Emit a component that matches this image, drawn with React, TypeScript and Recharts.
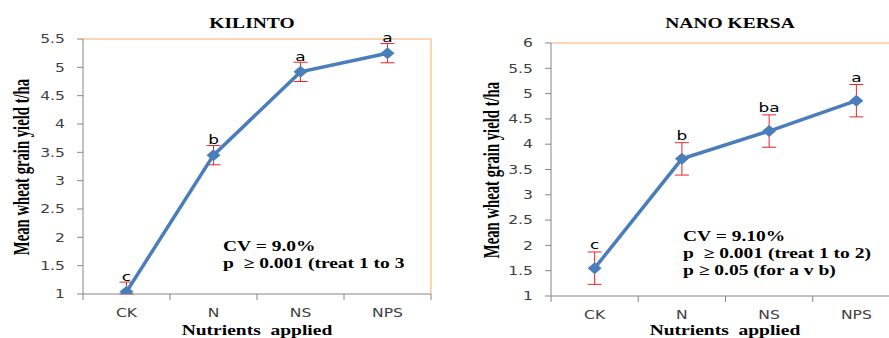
import { LineChart, Line, XAxis, YAxis, ErrorBar, LabelList, ReferenceLine } from 'recharts';

const categories = ['CK', 'N', 'NS', 'NPS'];

// KILINTO
const kilintoYield = [1.04, 3.45, 4.92, 5.25];
const kilintoErrLow = [0.04, 0.17, 0.17, 0.17];
const kilintoErrHigh = [0.17, 0.17, 0.17, 0.17];
const kilintoLetters = ['c', 'b', 'a', 'a'];
const kilintoTicks = [1, 1.5, 2, 2.5, 3, 3.5, 4, 4.5, 5, 5.5];

// NANO KERSA
const kersaYield = [1.55, 3.71, 4.26, 4.86];
const kersaErr = [0.32, 0.32, 0.32, 0.32];
const kersaLetters = ['c', 'b', 'ba', 'a'];
const kersaTicks = [1, 1.5, 2, 2.5, 3, 3.5, 4, 4.5, 5, 5.5, 6];

const xTicks = [0, 0.5, 1, 1.5, 2, 2.5, 3, 3.5, 4];

const kilintoData = categories.map((c, i) => ({
  x: i + 0.5,
  cat: c,
  y: kilintoYield[i],
  err: [kilintoErrLow[i], kilintoErrHigh[i]],
  sig: kilintoLetters[i],
}));

const kersaData = categories.map((c, i) => ({
  x: i + 0.5,
  cat: c,
  y: kersaYield[i],
  err: [kersaErr[i], kersaErr[i]],
  sig: kersaLetters[i],
}));

const BLUE = '#4a7ebb';
const AXIS = '#868686';
const ORANGE = '#fac99c';
const TICK_TXT = '#404040';
const SX = 1.3;

const YTick = (props: any) => {
  const { x, y, payload } = props;
  return (
    <g transform={`translate(${x},${y})`}>
      <text transform={`scale(${SX},1)`} textAnchor="end" dy="0.355em" fontSize={12}
        fontFamily="DejaVu Sans" fill={TICK_TXT}>
        {payload.value}
      </text>
    </g>
  );
};

const XTick = (props: any) => {
  const { x, y, payload } = props;
  const v = payload.value;
  if (v % 1 === 0) {
    return <line x1={x} x2={x} y1={y - 14} y2={y - 8} stroke={AXIS} />;
  }
  return (
    <g transform={`translate(${x},${y})`}>
      <text transform={`scale(${SX},1)`} textAnchor="middle" dy="0.71em" fontSize={12}
        fontFamily="DejaVu Sans" fill={TICK_TXT}>
        {categories[Math.floor(v)]}
      </text>
    </g>
  );
};

const Diamond = (props: any) => {
  const { cx, cy } = props;
  if (cx == null || cy == null) return null;
  return <path d={`M${cx - 7},${cy} L${cx},${cy - 6} L${cx + 7},${cy} L${cx},${cy + 6} Z`} fill={BLUE} />;
};

const sigLabel = (offset: number) => (props: any) => {
  const { x, y, value } = props;
  return (
    <g transform={`translate(${x},${y - offset})`}>
      <text transform={`scale(${SX},1)`} textAnchor="middle" fontSize={13}
        fontFamily="DejaVu Sans" fill="#000">
        {value}
      </text>
    </g>
  );
};

const serif: React.CSSProperties = {
  position: 'absolute',
  fontFamily: '"Liberation Serif", serif',
  fontWeight: 'bold',
  fontSize: 15,
  color: '#000',
  whiteSpace: 'pre',
  lineHeight: '17px',
};

function Txt({ x, y, children, center = true }: any) {
  return (
    <div style={{ ...serif, left: x, top: y, transform: `translate(${center ? '-50%' : '0'},-50%) scaleX(${SX})`, transformOrigin: center ? 'center' : 'left center' }}>
      {children}
    </div>
  );
}

function YLabel({ x, y }: any) {
  return (
    <div style={{ ...serif, left: x, top: y, fontSize: 14.7, transform: 'translate(-50%,-50%) rotate(-90deg) scaleY(1.5)' }}>
      Mean wheat grain yield t/ha
    </div>
  );
}

function Panel({ data, ticks, domain, width, yAxisWidth, margin, errKey, offset }: any) {
  return (
    <LineChart width={width} height={338} data={data} margin={margin}>
      <XAxis dataKey="x" type="number" domain={[0, 4]} ticks={xTicks} interval={0}
        height={30} tickSize={6} tickMargin={8} tickLine={false}
        axisLine={{ stroke: AXIS }} tick={<XTick />} allowDataOverflow />
      <YAxis type="number" domain={domain} ticks={ticks} interval={0} width={yAxisWidth}
        tickSize={6} tickMargin={12} tickLine={{ stroke: AXIS }} axisLine={{ stroke: AXIS }}
        tick={<YTick />} allowDataOverflow />
      <ReferenceLine y={domain[1]} stroke={ORANGE} strokeWidth={1.5} />
      <ReferenceLine x={4} stroke={ORANGE} strokeWidth={1.5} />
      <Line type="linear" dataKey="y" stroke={BLUE} strokeWidth={3.5} dot={<Diamond />}
        activeDot={false} isAnimationActive={false}>
        <ErrorBar dataKey={errKey} width={7} stroke="#e8262a" strokeWidth={1} direction="y" />
        <LabelList dataKey="sig" content={sigLabel(offset)} />
      </Line>
    </LineChart>
  );
}

export default function App() {
  return (
    <div style={{ position: 'absolute', left: 0, top: 0, width: 889, height: 338, overflow: 'hidden', background: '#fff' }}>
      <div style={{ position: 'absolute', left: 0, top: 0 }}>
        <Panel data={kilintoData} ticks={kilintoTicks} domain={[1, 5.5]} width={445}
          yAxisWidth={83} margin={{ top: 39, right: 14, bottom: 14, left: 0 }} errKey="err" offset={11} />
      </div>
      <div style={{ position: 'absolute', left: 445, top: 0 }}>
        <Panel data={kersaData} ticks={kersaTicks} domain={[1, 6]} width={460}
          yAxisWidth={106} margin={{ top: 43, right: 5, bottom: 12, left: 0 }} errKey="err" offset={19} />
      </div>

      <Txt x={252} y={23}>KILINTO</Txt>
      <YLabel x={22} y={167} />
      <Txt x={257} y={330}>{'Nutrients  applied'}</Txt>
      <Txt x={223} y={246} center={false}>CV = 9.0%</Txt>
      <Txt x={223} y={263} center={false}>{'p  \u2265 0.001 (treat 1 to 3'}</Txt>

      <Txt x={730} y={23}>NANO KERSA</Txt>
      <YLabel x={492} y={170} />
      <Txt x={725} y={330}>{'Nutrients  applied'}</Txt>
      <Txt x={683} y={236} center={false}>CV = 9.10%</Txt>
      <Txt x={683} y={253} center={false}>{'p  \u2265 0.001 (treat 1 to 2)'}</Txt>
      <Txt x={683} y={270} center={false}>{'p \u2265 0.05 (for a v b)'}</Txt>
    </div>
  );
}
